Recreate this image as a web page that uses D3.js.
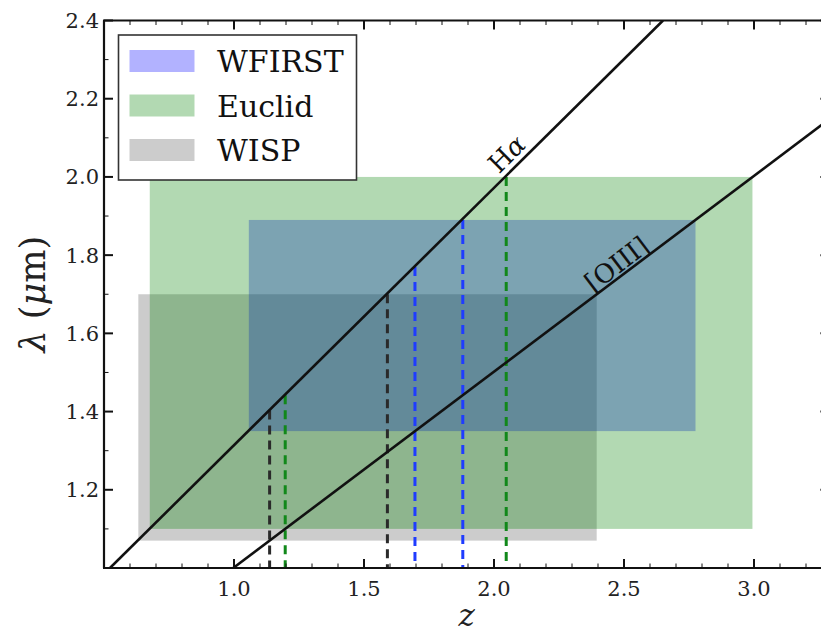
<!DOCTYPE html>
<html>
<head>
<meta charset="utf-8">
<script src="https://cdn.jsdelivr.net/npm/d3@7"></script>
<style>
  html, body { margin: 0; padding: 0; background: #fff; }
  svg { display: block; font-family: "DejaVu Serif", serif; }
</style>
</head>
<body>
<svg id="chart" width="821" height="638"></svg>
<script>
// Survey wavelength windows (micron) and the redshift span they cover
const surveys = ["WFIRST", "Euclid", "WISP"];
const lamMin  = [1.35, 1.10, 1.07];
const lamMax  = [1.89, 2.00, 1.70];
const zMin    = [1.057, 0.676, 0.632];
const zMax    = [2.775, 2.994, 2.395];
const fills   = ["rgba(0,0,255,0.3)", "rgba(0,128,0,0.3)", "rgba(0,0,0,0.2)"];
// drawing order of the bands: WISP, WFIRST, Euclid
const drawOrder = [2, 0, 1];

// Observed-wavelength tracks of the emission lines (end points)
const lineNames = ["H\u03b1", "[OIII]"];
const lineZ     = [[0.523, 2.650], [0.997, 3.290]];
const lineLam   = [[1.000, 2.400], [1.000, 2.148]];
// label anchors along each track (z) and perpendicular offset
const labelZ    = [2.09, 2.50];
const labelOff  = [15, 12];

// Redshift limits where both lines fall in each window
const dashZ     = [1.197, 2.047, 1.137, 1.590, 1.696, 1.880];
const dashTop   = [1.442, 2.000, 1.403, 1.700, 1.770, 1.890];
const dashColor = ["#11881a", "#11881a", "#2a2a2a", "#2a2a2a", "#1f3cff", "#1f3cff"];

// Axis ticks
const xTicks = [1.0, 1.5, 2.0, 2.5, 3.0];
const xMinor = [0.6,0.7,0.8,0.9,1.1,1.2,1.3,1.4,1.6,1.7,1.8,1.9,2.1,2.2,2.3,2.4,2.6,2.7,2.8,2.9,3.1,3.2];
const yTicks = [1.2, 1.4, 1.6, 1.8, 2.0, 2.2, 2.4];
const yMinor = [1.1, 1.3, 1.5, 1.7, 1.9, 2.1, 2.3];

const svg = d3.select("#chart");
const L = 104, R = 829.4, T = 20.5, B = 568;
const x = d3.scaleLinear().domain([0.5, 3.29]).range([L, R]);
const y = d3.scaleLinear().domain([1.0, 2.4]).range([B, T]);

svg.append("defs").append("clipPath").attr("id", "plotclip")
  .append("rect").attr("x", L).attr("y", T).attr("width", R - L).attr("height", B - T);

const plot = svg.append("g").attr("clip-path", "url(#plotclip)");

// survey bands
drawOrder.forEach(i => {
  plot.append("rect")
    .attr("x", x(zMin[i])).attr("y", y(lamMax[i]))
    .attr("width", x(zMax[i]) - x(zMin[i]))
    .attr("height", y(lamMin[i]) - y(lamMax[i]))
    .attr("fill", fills[i]);
});

// vertical dashed redshift limits
dashZ.forEach((z, i) => {
  plot.append("line")
    .attr("x1", x(z)).attr("x2", x(z))
    .attr("y1", y(dashTop[i])).attr("y2", y(1.0))
    .attr("stroke", dashColor[i]).attr("stroke-width", 3)
    .attr("stroke-dasharray", "9,6");
});

// emission-line tracks
const lineGen = d3.line().x(d => x(d[0])).y(d => y(d[1]));
lineZ.forEach((zs, i) => {
  plot.append("path")
    .attr("d", lineGen(zs.map((z, k) => [z, lineLam[i][k]])))
    .attr("fill", "none").attr("stroke", "#111").attr("stroke-width", 2.6);
});

// labels along the tracks
lineZ.forEach((zs, i) => {
  const z0 = zs[0], z1 = zs[1], l0 = lineLam[i][0], l1 = lineLam[i][1];
  const lam = l0 + (labelZ[i] - z0) * (l1 - l0) / (z1 - z0);
  const dx = x(z1) - x(z0), dy = y(l1) - y(l0);
  const ang = Math.atan2(dy, dx) * 180 / Math.PI;
  const t = svg.append("text")
    .attr("transform", `translate(${x(labelZ[i])},${y(lam)}) rotate(${ang})`)
    .attr("text-anchor", "middle")
    .attr("y", -labelOff[i] + 9)
    .attr("font-size", 26).attr("fill", "#111");
  if (i === 0) {
    t.append("tspan").text("H");
    t.append("tspan").attr("font-style", "italic").text("\u03b1");
  } else {
    t.text(lineNames[i]);
  }
});

// axes frame
const frame = svg.append("g").attr("stroke", "#111").attr("fill", "none");
frame.append("line").attr("x1", L).attr("x2", L).attr("y1", T).attr("y2", B).attr("stroke-width", 2.2);
frame.append("line").attr("x1", R).attr("x2", R).attr("y1", T).attr("y2", B).attr("stroke-width", 2.2);
frame.append("line").attr("x1", L - 1).attr("x2", R + 1).attr("y1", B).attr("y2", B).attr("stroke-width", 2.2);
frame.append("line").attr("x1", L - 1).attr("x2", R + 1).attr("y1", T).attr("y2", T).attr("stroke-width", 2.2);

// ticks (inward, on all four sides)
const tk = svg.append("g").attr("stroke", "#111");
xTicks.forEach(v => {
  tk.append("line").attr("x1", x(v)).attr("x2", x(v)).attr("y1", B).attr("y2", B - 9).attr("stroke-width", 2);
  tk.append("line").attr("x1", x(v)).attr("x2", x(v)).attr("y1", T).attr("y2", T + 9).attr("stroke-width", 2);
});
xMinor.forEach(v => {
  tk.append("line").attr("x1", x(v)).attr("x2", x(v)).attr("y1", B).attr("y2", B - 4.5).attr("stroke-width", 1);
  tk.append("line").attr("x1", x(v)).attr("x2", x(v)).attr("y1", T).attr("y2", T + 4.5).attr("stroke-width", 1);
});
yTicks.forEach(v => {
  tk.append("line").attr("x1", L).attr("x2", L + 9).attr("y1", y(v)).attr("y2", y(v)).attr("stroke-width", 2);
  tk.append("line").attr("x1", R).attr("x2", R - 9).attr("y1", y(v)).attr("y2", y(v)).attr("stroke-width", 2);
});
yMinor.forEach(v => {
  tk.append("line").attr("x1", L).attr("x2", L + 4.5).attr("y1", y(v)).attr("y2", y(v)).attr("stroke-width", 1);
  tk.append("line").attr("x1", R).attr("x2", R - 4.5).attr("y1", y(v)).attr("y2", y(v)).attr("stroke-width", 1);
});

// tick labels
const fmt = d3.format(".1f");
svg.append("g").selectAll("text").data(xTicks).join("text")
  .attr("x", d => x(d)).attr("y", B + 28)
  .attr("text-anchor", "middle").attr("font-size", 21).attr("fill", "#222")
  .text(d => fmt(d));
svg.append("g").selectAll("text").data(yTicks).join("text")
  .attr("x", L - 5).attr("y", d => y(d) + 7.5)
  .attr("text-anchor", "end").attr("font-size", 21).attr("fill", "#222")
  .text(d => fmt(d));

// axis titles
svg.append("text").attr("x", (L + R) / 2).attr("y", 626)
  .attr("text-anchor", "middle").attr("font-size", 31).attr("font-style", "italic")
  .attr("fill", "#222").text("z");
const yl = svg.append("text")
  .attr("transform", `translate(45,${(T + B) / 2}) rotate(-90)`)
  .attr("text-anchor", "middle").attr("font-size", 35).attr("fill", "#222");
yl.append("tspan").attr("font-style", "italic").text("\u03bb");
yl.append("tspan").text(" (");
yl.append("tspan").attr("font-style", "italic").text("\u03bc");
yl.append("tspan").text("m)");

// legend
const lg = svg.append("g");
lg.append("rect").attr("x", 118.5).attr("y", 35).attr("width", 238).attr("height", 145)
  .attr("fill", "#fff").attr("stroke", "#333").attr("stroke-width", 1.6);
surveys.forEach((s, i) => {
  const cy = 61 + i * 44.5;
  lg.append("rect").attr("x", 129.5).attr("y", cy - 11).attr("width", 65).attr("height", 22)
    .attr("fill", fills[i]);
  lg.append("text").attr("x", 217).attr("y", cy + 11)
    .attr("font-size", 30).attr("fill", "#111").text(s);
});
</script>
</body>
</html>
